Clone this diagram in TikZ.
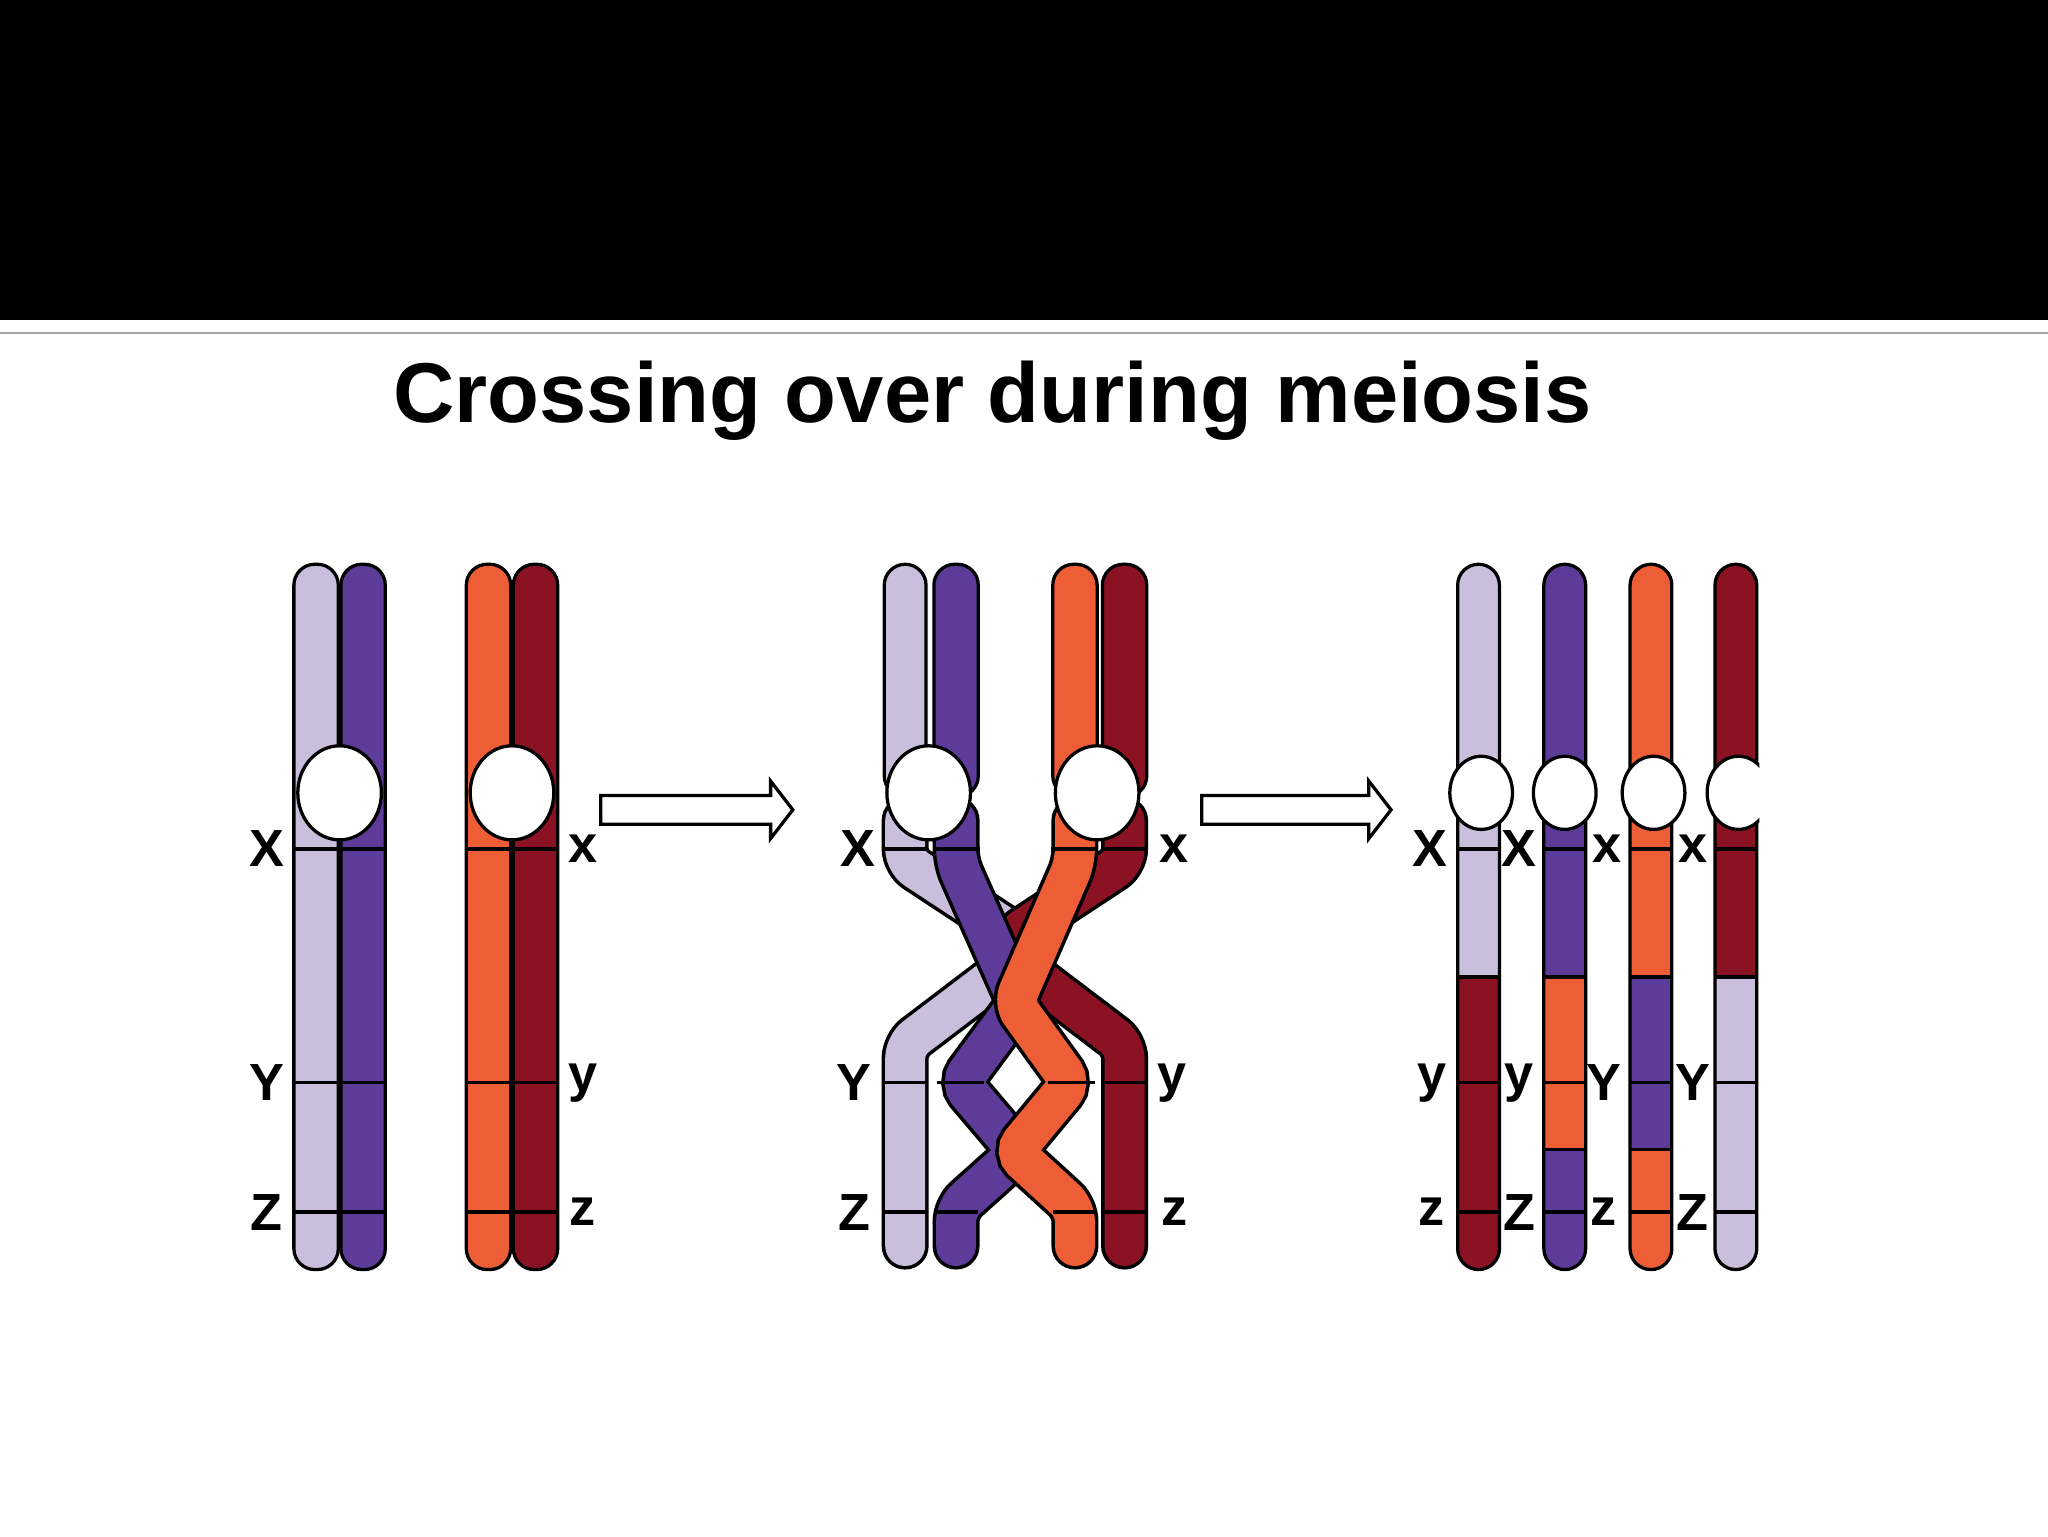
\documentclass[tikz,border=0pt]{standalone}
\usepackage{fontspec}
\setmainfont{Liberation Sans}
\definecolor{lav}{HTML}{C9BFDD}
\definecolor{pur}{HTML}{5C3C98}
\definecolor{ora}{HTML}{EE5E36}
\definecolor{dred}{HTML}{8A1222}
\tikzset{
 outl/.style={draw=black,line width=2.5},
 lbl/.style={font=\fontsize{40}{42}\selectfont\bfseries,inner sep=0},
 cen/.style={draw=black,fill=white,line width=2.5},
 band/.style={draw=black,line width=2.5},
 hollow/.style={draw=black,fill=white,line width=2.5},
}
\newcommand\crbar[2]{\filldraw[fill=#2,outl,rounded corners=16] (#1-17,432) rectangle (#1+17,972);}
\newcommand\strand[2]{\draw[line width=36,black,line cap=round,rounded corners=10] #2; \draw[line width=30.5,#1,line cap=round,rounded corners=10] #2;}
\newcommand\segbar[4]{% x, top color, mid color, bottom color
 \begin{scope}
 \clip[rounded corners=16] (#1-16,432) rectangle (#1+16,972);
 \fill[#2] (#1-17,430) rectangle (#1+17,748);
 \fill[#3] (#1-17,748) rectangle (#1+17,880);
 \fill[#4] (#1-17,880) rectangle (#1+17,975);
 \end{scope}
 \draw[band] (#1-16,748) -- (#1+16,748);
 \draw[outl,rounded corners=16] (#1-16,432) rectangle (#1+16,972);
 \draw[band] (#1-16,650) -- (#1+16,650) (#1-16,829) -- (#1+16,829) (#1-16,928) -- (#1+16,928);
}
\begin{document}
\begin{tikzpicture}[x=1pt,y=-1pt]
\useasboundingbox (0,0) rectangle (1568,1176);
\fill[black] (0,0) rectangle (1568,245);
\draw[gray!70,line width=2] (0,255) -- (1568,255);
\node[font=\fontsize{65}{68}\selectfont\bfseries,inner sep=0] (title) at (760,307) {Crossing over during meiosis};

% left group
\crbar{242}{lav}\crbar{278}{pur}\crbar{374}{ora}\crbar{410}{dred}
\foreach \x in {225,261,357,393}{
 \draw[band] (\x,650) -- ++(34,0) (\x,829) -- ++(34,0) (\x,928) -- ++(34,0);}
\draw[cen] (260,607) ellipse (32 and 36);
\draw[cen] (392,607) ellipse (32 and 36);
\node[lbl] (lX) at (204,650) {X};
\node[lbl] (lY) at (204,829) {Y};
\node[lbl] (lZ) at (204,928) {Z};
\node[lbl] (lx) at (446,650) {x};
\node[lbl] (ly) at (446,829) {y};
\node[lbl] (lz) at (446,928) {z};

% arrows
\draw[hollow] (460,609) -- (590,609) -- (590,598) -- (607,620) -- (590,642) -- (590,631) -- (460,631) -- cycle;
\draw[hollow] (920,609) -- (1048,609) -- (1048,598) -- (1065,620) -- (1048,642) -- (1048,631) -- (920,631) -- cycle;

% middle group
\filldraw[fill=lav,outl,rounded corners=16] (677,432) rectangle (709,610);
\filldraw[fill=pur,outl,rounded corners=16] (715,432) rectangle (749,610);
\filldraw[fill=ora,outl,rounded corners=16] (806,432) rectangle (840,610);
\filldraw[fill=dred,outl,rounded corners=16] (844,432) rectangle (878,610);
\strand{lav}{(693,954) -- (693,800) -- (772,740)}
\strand{dred}{(861,954) -- (861,800) -- (782,740)}
\strand{lav}{(693,628) -- (693,660) -- (772,712)}
\strand{dred}{(861,628) -- (861,660) -- (782,712)}
\strand{pur}{(732,628) -- (732,660) -- (780,768) -- (735,829) -- (780,882) -- (732,925) -- (732,954)}
\strand{ora}{(823,628) -- (823,660) -- (776,768) -- (820,829) -- (776,882) -- (823,925) -- (823,954)}
\draw[band] (677,650) -- (709,650) (715,650) -- (750,650) (805,650) -- (840,650) (844,650) -- (878,650);
\draw[band] (677,829) -- (709,829) (717,829) -- (753,829) (802,829) -- (838,829) (844,829) -- (878,829);
\draw[band] (677,928) -- (709,928) (715,928) -- (749,928) (806,928) -- (840,928) (844,928) -- (878,928);
\draw[cen] (711,607) ellipse (32 and 36);
\draw[cen] (840,607) ellipse (32 and 36);
\node[lbl] (mX) at (657,650) {X};
\node[lbl] (mY) at (654,829) {Y};
\node[lbl] (mZ) at (654,928) {Z};
\node[lbl] (mx) at (899,650) {x};
\node[lbl] (my) at (897,829) {y};
\node[lbl] (mz) at (899,928) {z};

% right group
\segbar{1132}{lav}{dred}{dred}
\segbar{1198}{pur}{ora}{pur}
\segbar{1264}{ora}{pur}{ora}
\segbar{1329}{dred}{lav}{lav}
\draw[band] (1182,880) -- (1214,880) (1248,880) -- (1280,880);
\draw[cen] (1134,607) ellipse (24 and 28);
\draw[cen] (1198,607) ellipse (24 and 28);
\draw[cen] (1266,607) ellipse (24 and 28);
\begin{scope}
\clip (1280,560) rectangle (1347,660);
\draw[cen] (1331,607) ellipse (24 and 28);
\end{scope}
\node[lbl] (rX1) at (1095,650) {X};
\node[lbl] (rX2) at (1163,650) {X};
\node[lbl] (rx3) at (1230,650) {x};
\node[lbl] (rx4) at (1296,650) {x};
\node[lbl] (ry1) at (1096,829) {y};
\node[lbl] (ry2) at (1163,829) {y};
\node[lbl] (rY3) at (1228,829) {Y};
\node[lbl] (rY4) at (1296,829) {Y};
\node[lbl] (rz1) at (1096,928) {z};
\node[lbl] (rZ2) at (1163,928) {Z};
\node[lbl] (rz3) at (1228,928) {z};
\node[lbl] (rZ4) at (1296,928) {Z};
\end{tikzpicture}
\end{document}
